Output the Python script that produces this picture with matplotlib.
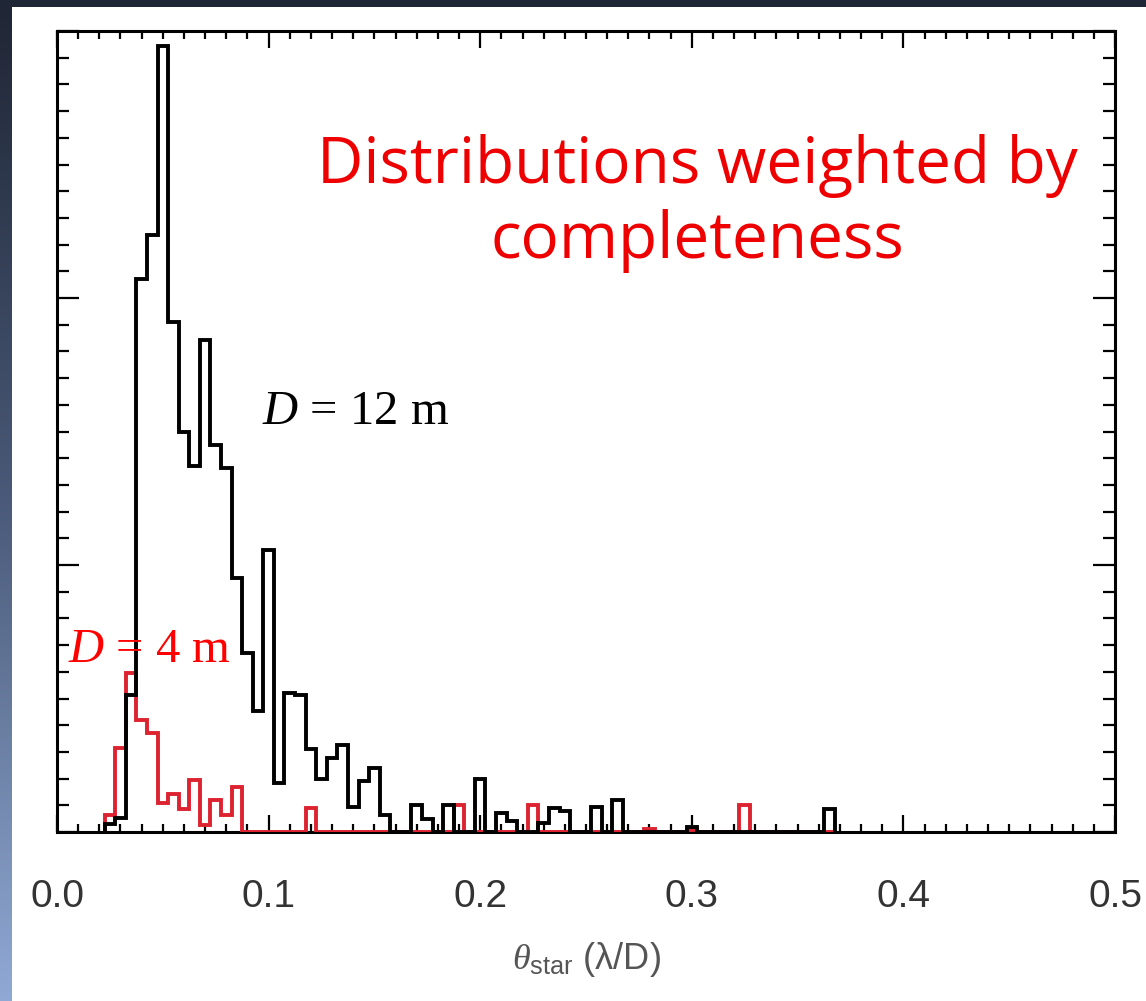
import numpy as np
import matplotlib
matplotlib.use("Agg")
import matplotlib.pyplot as plt
import matplotlib.ticker as mticker
from matplotlib.patches import Rectangle

plt.rcParams["mathtext.fontset"] = "custom"
plt.rcParams["mathtext.rm"] = "Liberation Sans"
plt.rcParams["mathtext.it"] = "Liberation Serif:italic"

# histogram bins, 0.005 wide, centred on 0.025 ... 0.365
bin_width = 0.005
bin_first = 0.025
bin_last = 0.365

# completeness-weighted counts, D = 12 m telescope
counts_12m = [
    0.03, 0.052, 0.513, 2.07, 2.236, 2.944, 1.91, 1.498, 1.37, 1.843,
    1.449, 1.362, 0.95, 0.67, 0.454, 1.056, 0.182, 0.519, 0.513, 0.31,
    0.197, 0.276, 0.326, 0.095, 0.192, 0.238, 0.064, 0.0, 0.0, 0.10,
    0.05, 0.0, 0.10, 0.0, 0.0, 0.2, 0.0, 0.07, 0.04, 0.0,
    0.0, 0.035, 0.09, 0.08, 0.0, 0.0, 0.095, 0.0, 0.12, 0.0,
    0.0, 0.0, 0.0, 0.0, 0.0, 0.02, 0.0, 0.0, 0.0, 0.0,
    0.0, 0.0, 0.0, 0.0, 0.0, 0.0, 0.0, 0.0, 0.088,
]

# completeness-weighted counts, D = 4 m telescope
counts_4m = [
    0.065, 0.313, 0.597, 0.42, 0.37, 0.11, 0.142, 0.088, 0.196, 0.028,
    0.12, 0.064, 0.17, 0.0, 0.0, 0.0, 0.0, 0.0, 0.0, 0.09,
    0.0, 0.0, 0.0, 0.0, 0.0, 0.0, 0.0, 0.0, 0.0, 0.0,
    0.0, 0.0, 0.0, 0.1, 0.0, 0.0, 0.0, 0.0, 0.0, 0.0,
    0.1, 0.0, 0.0, 0.0, 0.0, 0.0, 0.0, 0.0, 0.0, 0.0,
    0.0, 0.01, 0.0, 0.0, 0.0, 0.006, 0.0, 0.0, 0.0, 0.0,
    0.1, 0.0, 0.0, 0.0, 0.0, 0.0, 0.0, 0.0, 0.0,
]

xtick_vals = [0.0, 0.1, 0.2, 0.3, 0.4, 0.5]

n_bins = int(round((bin_last - bin_first) / bin_width)) + 1
edges = bin_first - bin_width / 2 + bin_width * np.arange(n_bins + 1)

W, H = 1146, 1001
fig = plt.figure(figsize=(W / 100, H / 100), dpi=100)
fig.patch.set_facecolor("white")

# slide background: dark bar on top, blue gradient strip on the left
fig.patches.append(Rectangle((0, 1 - 7 / H), 1, 7 / H, transform=fig.transFigure,
                             facecolor="#1f2635", edgecolor="none", zorder=0))
strip = fig.add_axes([0, 0, 12 / W, 1 - 7 / H])
grad = np.linspace(0, 1, 256)[:, None]
cmap = matplotlib.colors.LinearSegmentedColormap.from_list(
    "slide", ["#1f2635", "#4a5a78", "#90a9d4"])
strip.imshow(grad, aspect="auto", cmap=cmap, extent=[0, 1, 0, 1])
strip.set_axis_off()

ax = fig.add_axes([57 / W, 1 - 832 / H, (1115 - 57) / W, (832 - 31) / H])

ax.stairs(counts_4m, edges, baseline=0, fill=False, color="#dd2230",
          linewidth=2.8, zorder=3)
ax.stairs(counts_12m, edges, baseline=0, fill=False, color="black",
          linewidth=2.8, zorder=4)

ax.set_xlim(0, 0.5)
ax.set_ylim(0, 3)

ax.xaxis.set_major_locator(mticker.FixedLocator(xtick_vals))
ax.xaxis.set_minor_locator(mticker.MultipleLocator(0.01))
ax.xaxis.set_major_formatter(mticker.FormatStrFormatter("%.1f"))
ax.yaxis.set_major_locator(mticker.MultipleLocator(1))
ax.yaxis.set_minor_locator(mticker.MultipleLocator(0.1))
ax.yaxis.set_major_formatter(mticker.NullFormatter())

for s in ax.spines.values():
    s.set_linewidth(2.2)

ax.tick_params(axis="both", which="both", direction="in",
               top=True, right=True, width=1.6, colors="black")
ax.tick_params(axis="x", which="major", length=12, pad=34,
               labelsize=28, labelcolor="#333333")
ax.tick_params(axis="x", which="minor", length=6)
ax.tick_params(axis="y", which="major", length=16)
ax.tick_params(axis="y", which="minor", length=8.5)
for lab in ax.get_xticklabels():
    lab.set_fontfamily("Liberation Sans")

ax.set_xlabel(r"$\theta_{\rm star}$ (λ/D)", fontsize=26, color="#555555",
              family="Liberation Sans", labelpad=18)

def px(x, y):
    return x / W, 1 - y / H

fig.text(*px(697, 183), "Distributions weighted by", ha="center", va="baseline",
         fontsize=46, color="#ee0000", family="Open Sans")
fig.text(*px(697, 258), "completeness", ha="center", va="baseline",
         fontsize=46, color="#ee0000", family="Open Sans")

fig.text(*px(262, 424), r"$D$ = 12 m", ha="left", va="baseline",
         fontsize=35, color="black", family="Liberation Serif")
fig.text(*px(68, 662), r"$D$ = 4 m", ha="left", va="baseline",
         fontsize=35, color="#ff0000", family="Liberation Serif", zorder=5)

fig.savefig("out.png", dpi=100)
